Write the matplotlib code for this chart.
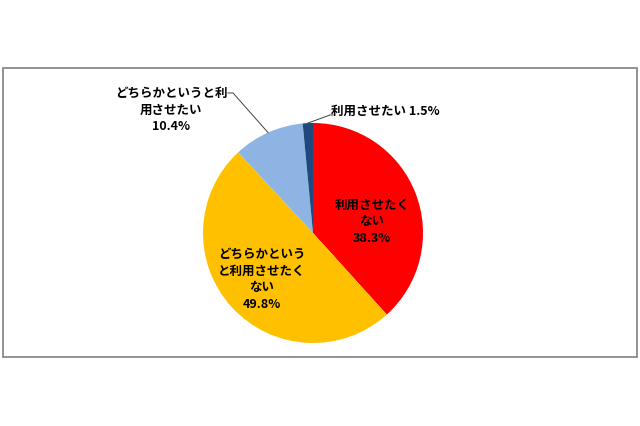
import numpy as np
import matplotlib
matplotlib.use("Agg")
import matplotlib.pyplot as plt
from matplotlib.patches import Rectangle

plt.rcParams['font.family'] = ['Noto Sans CJK JP', 'DejaVu Sans']

# データ（12時の位置から時計回り）
labels = ["利用させたく\nない", "どちらかという\nと利用させたく\nない",
          "どちらかというと利\n用させたい", "利用させたい"]
values = [38.3, 49.8, 10.4, 1.5]
colors = ["#FF0000", "#FFC000", "#8DB4E2", "#1F497D"]

fig = plt.figure(figsize=(6.4, 4.26), dpi=100, facecolor='w')

# 外枠
fig.patches.append(Rectangle((3 / 640, 1 - 357 / 426), 634 / 640, 289 / 426,
                             transform=fig.transFigure, fill=False,
                             edgecolor="#808080", linewidth=1.2))

# 円グラフ（中心 313,233 半径 110 px）
ax = fig.add_axes([203 / 640, 1 - 343 / 426, 220 / 640, 220 / 426])
wedges, _ = ax.pie(values, colors=colors, startangle=90, counterclock=False,
                   wedgeprops=dict(linewidth=0))
ax.set_xlim(-1, 1)
ax.set_ylim(-1, 1)
ax.set_aspect('equal')

fs = 9
# 内側ラベル
ax.text(0.536, 0.10, labels[0] + "\n" + f"{values[0]}%", ha='center', va='center',
        fontsize=fs, fontweight='bold', linespacing=1.35)
ax.text(-0.464, -0.423, labels[1] + "\n" + f"{values[1]}%", ha='center', va='center',
        fontsize=fs, fontweight='bold', linespacing=1.35)

# 外側ラベル＋引き出し線
def edge_point(w):
    mid = np.deg2rad((w.theta1 + w.theta2) / 2)
    return np.cos(mid), np.sin(mid)

ex, ey = edge_point(wedges[2])
ax.plot([ex, -0.727, -0.773], [ey, 1.273, 1.273], color="#404040", lw=0.7, clip_on=False)
ax.text(-1.29, 1.118, labels[2] + "\n" + f"{values[2]}%", ha='center', va='center',
        fontsize=fs, fontweight='bold', linespacing=1.35)

ex, ey = edge_point(wedges[3])
ax.plot([ex, 0.155, 0.182], [ey, 1.073, 1.073], color="#404040", lw=0.7, clip_on=False)
ax.text(0.164, 1.109, labels[3] + " " + f"{values[3]}%", ha='left', va='center',
        fontsize=fs, fontweight='bold')

fig.savefig("out.png", dpi=100)
